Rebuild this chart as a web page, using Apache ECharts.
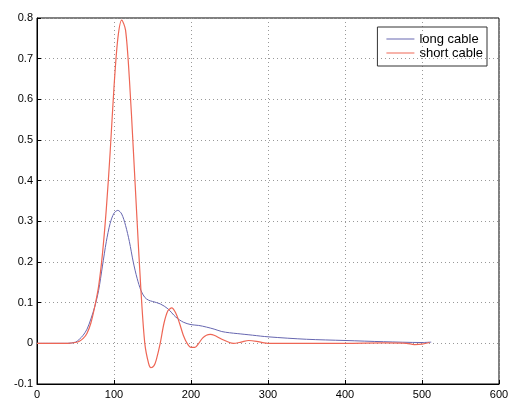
<!DOCTYPE html>
<html>
<head>
<meta charset="utf-8">
<script src="https://cdn.jsdelivr.net/npm/echarts@6.0.0/dist/echarts.min.js"></script>
<style>html,body{margin:0;background:#fff}#c{width:525px;height:413px}</style>
</head>
<body>
<div id="c"></div>
<script>
const longX = [0, 20, 40, 50, 55, 60, 65, 70, 75, 80, 85, 90, 95, 100, 105, 110, 115, 120, 125, 130, 135, 140, 145, 150, 160, 170, 180, 190, 200, 210, 220, 230, 240, 250, 260, 280, 300, 350, 400, 450, 500, 512];
const longY = [0, 0, 0, 0.003, 0.01, 0.02, 0.035, 0.06, 0.09, 0.13, 0.19, 0.25, 0.295, 0.32, 0.327, 0.318, 0.29, 0.25, 0.2, 0.16, 0.13, 0.113, 0.106, 0.103, 0.097, 0.085, 0.065, 0.052, 0.046, 0.044, 0.04, 0.035, 0.029, 0.026, 0.024, 0.02, 0.016, 0.01, 0.007, 0.004, 0.002, 0.003];
const shortX = [0, 40, 50, 55, 60, 65, 70, 75, 80, 85, 90, 95, 100, 105, 110, 115, 120, 125, 130, 135, 140, 145, 148, 152, 155, 160, 165, 170, 175, 180, 185, 190, 195, 200, 205, 210, 215, 220, 225, 230, 240, 250, 255, 265, 275, 285, 295, 300, 350, 400, 450, 480, 490, 500, 510];
const shortY = [0, 0, 0.002, 0.005, 0.012, 0.025, 0.05, 0.09, 0.14, 0.22, 0.33, 0.47, 0.63, 0.75, 0.795, 0.77, 0.65, 0.48, 0.3, 0.13, 0.0, -0.05, -0.06, -0.055, -0.04, 0.0, 0.05, 0.08, 0.087, 0.075, 0.05, 0.02, 0.0, -0.01, -0.01, 0.0, 0.013, 0.02, 0.022, 0.02, 0.01, 0.002, 0.0, 0.003, 0.007, 0.005, 0.001, 0, 0, 0, 0.001, 0, -0.003, -0.002, 0.002];

const zip = (xs, ys) => xs.map((x, i) => [x, ys[i]]);
const font = 'Arial, "Liberation Sans", sans-serif';
const split = { show: true, lineStyle: { color: '#999', type: [1, 3], width: 1 } };

const chart = echarts.init(document.getElementById('c'));
chart.setOption({
  animation: false,
  grid: { left: 37, right: 26, top: 18, bottom: 29, show: true, borderColor: '#000', borderWidth: 1 },
  legend: {
    right: 38, top: 27, orient: 'vertical', itemGap: 0,
    borderColor: '#333', borderWidth: 1, padding: [5, 4, 6, 9],
    itemWidth: 28, itemHeight: 1, icon: 'rect',
    textStyle: { fontFamily: font, fontSize: 13, color: '#000', lineHeight: 14 },
    data: ['long cable', 'short cable']
  },
  xAxis: {
    type: 'value', min: 0, max: 600, interval: 100,
    axisLine: { onZero: false, lineStyle: { color: '#000' } },
    axisTick: { inside: true, length: 4, lineStyle: { color: '#000' } },
    axisLabel: { color: '#000', fontFamily: font, fontSize: 11, margin: 5 },
    splitLine: split
  },
  yAxis: {
    type: 'value', min: -0.1, max: 0.8, interval: 0.1,
    axisLine: { show: true, onZero: false, lineStyle: { color: '#000' } },
    axisTick: { show: true, inside: true, length: 4, lineStyle: { color: '#000' } },
    axisLabel: { color: '#000', fontFamily: font, fontSize: 11, margin: 4,
      formatter: v => String(Math.round(v * 10) / 10) },
    splitLine: split
  },
  series: [
    { name: 'long cable', type: 'line', smooth: 0.3, symbol: 'none', data: zip(longX, longY),
      itemStyle: { color: '#6666b0' }, lineStyle: { width: 1, color: '#6666b0' } },
    { name: 'short cable', type: 'line', smooth: 0.3, symbol: 'none', data: zip(shortX, shortY),
      itemStyle: { color: '#ee6655' }, lineStyle: { width: 1.2, color: '#ee6655' } }
  ]
});
</script>
</body>
</html>
